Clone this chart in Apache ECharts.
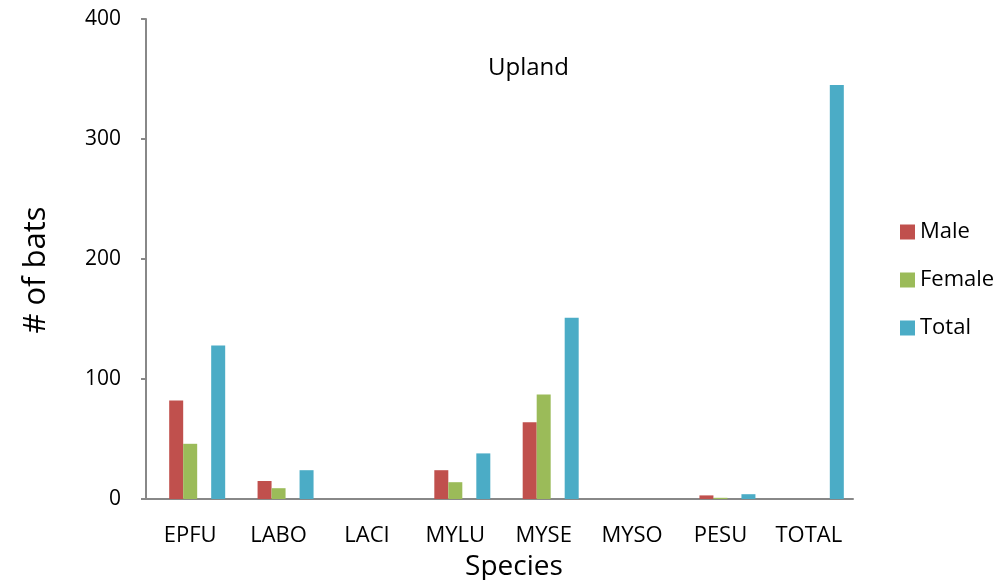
<!DOCTYPE html>
<html>
<head>
<meta charset="utf-8">
<script src="https://cdn.jsdelivr.net/npm/echarts@6/dist/echarts.min.js"></script>
<style>html,body{margin:0;padding:0;background:#fff}#c{width:998px;height:580px}</style>
</head>
<body>
<div id="c"></div>
<script>
const categories = ['EPFU','LABO','LACI','MYLU','MYSE','MYSO','PESU','TOTAL'];
const male   = [82, 15, 0, 24, 64, 0, 3, 0];
const female = [46, 9, 0, 14, 87, 0, 1, 0];
const total  = [128, 24, 0, 38, 151, 0, 4, 345];
const yTicks = [0, 100, 200, 300, 400];

const font = '"Open Sans", "Noto Sans", sans-serif';
const chart = echarts.init(document.getElementById('c'));
const empty = categories.map(() => '-');
const bar = (name, data, color) => ({
  name, type: 'bar', data, barWidth: 14, barGap: '0%',
  itemStyle: { color }, silent: true
});
chart.setOption({
  animation: false,
  title: { text: 'Upland', left: 483, top: 51,
    textStyle: { fontFamily: font, fontSize: 24, fontWeight: 'normal', color: '#000' } },
  legend: {
    orient: 'vertical', left: 895, top: 216, itemWidth: 15, itemHeight: 15, itemGap: 26,
    icon: 'rect', data: ['Male','Female','Total'],
    textStyle: { fontFamily: font, fontSize: 22, color: '#000' }
  },
  grid: { left: 146, right: 145, top: 19, bottom: 81, containLabel: false, outerBoundsMode: 'none' },
  xAxis: {
    type: 'category', data: categories,
    name: 'Species', nameLocation: 'middle', nameGap: 54,
    nameTextStyle: { fontFamily: font, fontSize: 28, color: '#000', padding: [0, 0, 0, 29] },
    axisLine: { lineStyle: { color: '#888', width: 2 } },
    axisTick: { show: false },
    axisLabel: { fontFamily: font, fontSize: 22, color: '#000', margin: 26 }
  },
  yAxis: {
    type: 'value', min: yTicks[0], max: yTicks[yTicks.length-1], interval: 100,
    name: '# of bats', nameLocation: 'middle', nameGap: 94,
    nameTextStyle: { fontFamily: font, fontSize: 31, color: '#000', padding: [0, 22, 0, 0] },
    axisLine: { show: true, lineStyle: { color: '#888', width: 2 } },
    axisTick: { show: true, length: 5, lineStyle: { color: '#888', width: 2 } },
    splitLine: { show: false },
    axisLabel: { fontFamily: font, fontSize: 21, color: '#000', margin: 25 }
  },
  series: [
    bar('pad1', empty, 'transparent'),
    bar('Male', male, '#C0504D'),
    bar('Female', female, '#9BBB59'),
    bar('pad2', empty, 'transparent'),
    bar('Total', total, '#4BACC6')
  ]
});
</script>
</body>
</html>
